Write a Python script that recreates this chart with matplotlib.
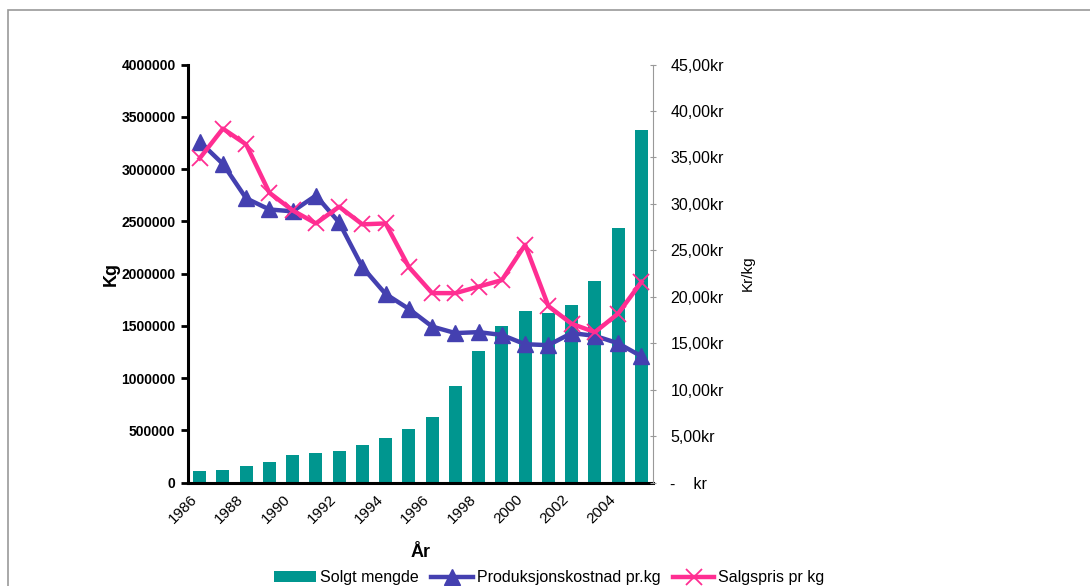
import matplotlib
matplotlib.use("Agg")
import matplotlib.pyplot as plt
from matplotlib.patches import Rectangle
import numpy as np

plt.rcParams['font.family'] = ['Liberation Sans', 'DejaVu Sans']

years = list(range(1986, 2006))
solgt_mengde = [115000, 121000, 160000, 198000, 265000, 284000, 300000, 363000, 430000, 516000,
                631000, 925000, 1259000, 1501000, 1642000, 1620000, 1699000, 1926000, 2432000, 3372000]
produksjonskostnad = [36.7, 34.3, 30.6, 29.4, 29.2, 30.9, 28.0, 23.2, 20.3, 18.7,
                      16.8, 16.1, 16.2, 15.9, 14.9, 14.8, 16.1, 15.8, 15.0, 13.6]
salgspris = [34.9, 38.1, 36.4, 31.2, 29.3, 27.9, 29.7, 27.8, 27.9, 23.2,
             20.4, 20.4, 21.1, 21.8, 25.6, 19.0, 17.1, 16.2, 18.2, 21.6]
left_ticks = [0, 500000, 1000000, 1500000, 2000000, 2500000, 3000000, 3500000, 4000000]
right_ticks = [0, 5, 10, 15, 20, 25, 30, 35, 40, 45]

teal = "#00968f"
blue = "#4440b0"
pink = "#ff2e92"

fig = plt.figure(figsize=(10.9, 5.86), dpi=100)
ax = fig.add_axes([0.1725, 0.1763, 0.4266, 0.7136])
x = np.arange(len(years))

ax.bar(x, solgt_mengde, width=0.56, color=teal, label="Solgt mengde", zorder=2)
ax.set_xlim(-0.5, len(years) - 0.5)
ax.set_ylim(0, 4000000)
ax.set_yticks(left_ticks)
ax.set_yticklabels([str(v) for v in left_ticks], fontsize=10, fontweight="bold")
ax.set_xticks(x[::2])
ax.set_xticklabels([str(y) for y in years[::2]], rotation=45, ha="right", va="top", fontsize=11)
ax.tick_params(axis="x", length=0, pad=7)
ax.tick_params(axis="y", length=5, width=2, direction="out", pad=4)
for side in ["top", "right"]:
    ax.spines[side].set_visible(False)
ax.spines["left"].set_linewidth(2.2)
ax.spines["bottom"].set_linewidth(2.2)
ax.set_ylabel("Kg", fontsize=13, fontweight="bold", labelpad=1)
ax.set_xlabel("År", fontsize=13, fontweight="bold", labelpad=13)

ax2 = ax.twinx()
ax2.plot(x, produksjonskostnad, color=blue, linewidth=3.2, marker="^", markersize=11,
         label="Produksjonskostnad pr.kg", zorder=3)
ax2.plot(x, salgspris, color=pink, linewidth=3.2, marker="x", markersize=11,
         markeredgewidth=1.3, label="Salgspris pr kg", zorder=4)
ax2.set_ylim(0, 45)
ax2.set_yticks(right_ticks)
ax2.set_yticklabels(["-    kr"] + ["%d,00kr" % v for v in right_ticks[1:]], fontsize=11.5)
ax2.tick_params(axis="y", length=5, width=0.8, color="#999999", direction="inout", pad=10)
for side in ["top", "left", "bottom"]:
    ax2.spines[side].set_visible(False)
ax2.spines["right"].set_color("#999999")
ax2.spines["right"].set_linewidth(0.8)
ax2.set_ylabel("Kr/kg", fontsize=11, labelpad=12)

h1, l1 = ax.get_legend_handles_labels()
h2, l2 = ax2.get_legend_handles_labels()
fig.legend(h1 + h2, l1 + l2, loc="center", bbox_to_anchor=(0.504, 0.014), ncol=3,
           frameon=False, fontsize=11.5, handlelength=2.6, columnspacing=0.8, handletextpad=0.25)

fig.patches.append(Rectangle((8 / 1090, -0.1), 1.2, 1 - 10 / 586 + 0.1, transform=fig.transFigure,
                             fill=False, edgecolor="#999999", linewidth=1.2))

fig.savefig("out.png", dpi=100)
